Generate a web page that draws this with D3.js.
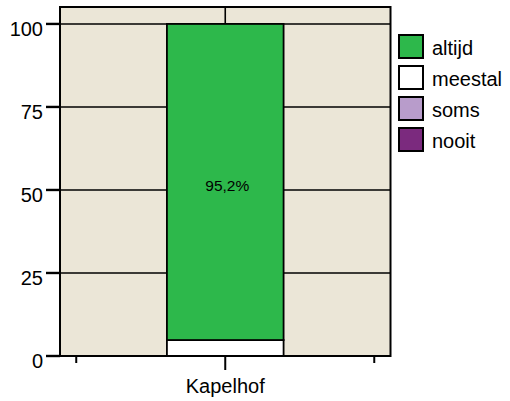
<!DOCTYPE html>
<html><head><meta charset="utf-8">
<script src="https://cdn.jsdelivr.net/npm/d3@7/dist/d3.min.js"></script>
<style>body{margin:0;background:#fff}svg{display:block}text{font-family:"Liberation Sans",Arial,sans-serif}</style>
</head><body><svg id="c" width="510" height="401"></svg>
<script>
const categories = ["Kapelhof"];
const seriesNames = ["altijd", "meestal", "soms", "nooit"];
const seriesColors = ["#2db84b", "#ffffff", "#b89ccb", "#7b2a7e"];
const altijd = [95.2];
const meestal = [4.8];
const soms = [0];
const nooit = [0];
const yTicks = [0, 25, 50, 75, 100];
const barLabels = ["95,2%"];

const svg = d3.select("#c");
const L = 60, R = 390.5, T = 7, B = 356;
const y = d3.scaleLinear().domain([0, 105.1]).range([B, T]);
const xDomain = ["", ...categories, " "];
const x = d3.scalePoint().domain(xDomain).range([L, R]).padding(0.109);
const barW = x.step() * 0.783;

svg.append("rect").attr("x", L).attr("y", T).attr("width", R - L).attr("height", B - T)
  .attr("fill", "#ebe6d7");

// gridlines
svg.append("g").selectAll("line").data(yTicks.filter(d => d > 0)).join("line")
  .attr("x1", L).attr("x2", R).attr("y1", d => y(d)).attr("y2", d => y(d))
  .attr("stroke", "#000").attr("stroke-width", 1.6);
svg.append("g").selectAll("line").data(categories).join("line")
  .attr("x1", d => x(d)).attr("x2", d => x(d)).attr("y1", T).attr("y2", B)
  .attr("stroke", "#000").attr("stroke-width", 1.6);

// stacked bars
const rows = categories.map((c, i) => ({cat: c, altijd: altijd[i], meestal: meestal[i], soms: soms[i], nooit: nooit[i]}));
const stack = d3.stack().keys(["meestal", "altijd", "soms", "nooit"])(rows);
const colorOf = k => seriesColors[seriesNames.indexOf(k)];
stack.forEach(layer => {
  svg.append("g").selectAll("rect").data(layer.filter(d => d[1] - d[0] > 0)).join("rect")
    .attr("x", d => x(d.data.cat) - barW / 2).attr("width", barW)
    .attr("y", d => y(d[1])).attr("height", d => y(d[0]) - y(d[1]))
    .attr("fill", colorOf(layer.key)).attr("stroke", "#000").attr("stroke-width", 1.8);
});
// label
const altLayer = stack.find(l => l.key === "altijd");
svg.append("g").selectAll("text").data(altLayer).join("text")
  .attr("x", d => x(d.data.cat) + 2).attr("y", d => y((d[0] + d[1]) / 2) + 9)
  .attr("text-anchor", "middle").attr("font-size", 15.5).attr("fill", "#000")
  .text((d, i) => barLabels[i]);

// frame
svg.append("rect").attr("x", L).attr("y", T).attr("width", R - L).attr("height", B - T)
  .attr("fill", "none").attr("stroke", "#000").attr("stroke-width", 2);

// y axis ticks
const ya = svg.append("g");
ya.selectAll("line").data(yTicks).join("line")
  .attr("x1", L - 14).attr("x2", L).attr("y1", d => y(d)).attr("y2", d => y(d))
  .attr("stroke", "#000").attr("stroke-width", 2.4);
ya.selectAll("text").data(yTicks).join("text")
  .attr("x", L - 17).attr("y", d => y(d) + 12).attr("text-anchor", "end")
  .attr("font-size", 20).attr("fill", "#000").text(d => d);

// x axis ticks
const xa = svg.append("g");
xa.selectAll("line").data(xDomain).join("line")
  .attr("x1", d => x(d)).attr("x2", d => x(d)).attr("y1", B)
  .attr("y2", d => categories.includes(d) ? B + 14 : B + 7)
  .attr("stroke", "#000").attr("stroke-width", 2);
xa.selectAll("text").data(categories).join("text")
  .attr("x", d => x(d)).attr("y", 393).attr("text-anchor", "middle")
  .attr("font-size", 20).attr("fill", "#000").text(d => d);

// legend
const lg = svg.append("g").attr("transform", "translate(399,35)");
const item = lg.selectAll("g").data(seriesNames).join("g")
  .attr("transform", (d, i) => `translate(0,${i * 31})`);
item.append("rect").attr("width", 24).attr("height", 23)
  .attr("fill", (d, i) => seriesColors[i]).attr("stroke", "#000").attr("stroke-width", 2);
item.append("text").attr("x", 33).attr("y", 19.5).attr("font-size", 20).attr("fill", "#000").text(d => d);
</script></body></html>
